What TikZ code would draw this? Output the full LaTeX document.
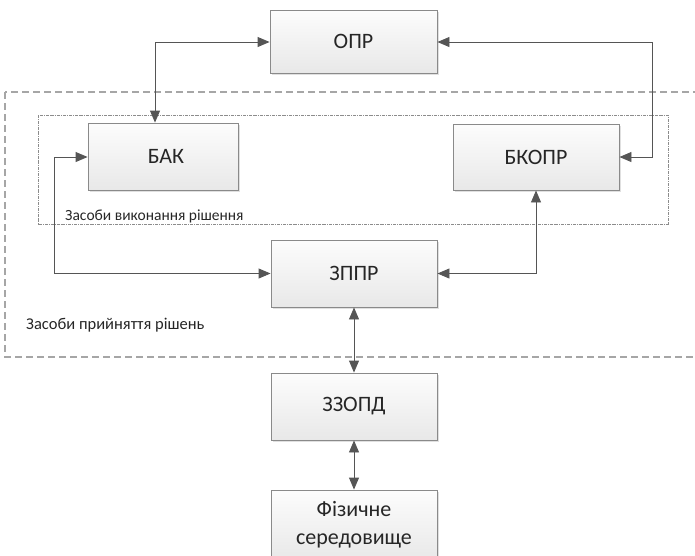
\documentclass[tikz,border=0pt]{standalone}
\usepackage{fontspec}
\setmainfont{Carlito}
\usetikzlibrary{arrows.meta,shadows}
\definecolor{linec}{HTML}{555555}
\definecolor{boxborder}{HTML}{8A8A8A}
\definecolor{outerc}{HTML}{A6A6A6}
\definecolor{innerc}{HTML}{8C8C8C}
\tikzset{
  blk/.style={draw=boxborder, line width=0.9pt, top color=black!1, bottom color=black!9,
    drop shadow={shadow xshift=2pt, shadow yshift=-2pt, fill=black!12, opacity=1},
    font=\fontsize{22}{26}\selectfont, text=black!85, inner sep=0pt, align=center},
  conn/.style={draw=linec, line width=0.9pt, {Triangle[length=12pt,width=10pt]}-{Triangle[length=12pt,width=10pt]}},
  lbl/.style={font=\fontsize{15.5}{18}\selectfont, text=black!85, inner sep=0pt, anchor=base west},
}
\begin{document}
\begin{tikzpicture}[x=1pt,y=-1pt]
\useasboundingbox (0,0) rectangle (695,555);
\begin{scope}
\clip (0,0) rectangle (695,555);
% outer dashed region
\draw[outerc, line width=1.2pt, dash pattern=on 7pt off 4pt] (5,92) rectangle (720,357);
% inner dash-dot region
\draw[innerc, line width=0.7pt, dash pattern=on 3pt off 1pt on 0.8pt off 1pt] (38,115) rectangle (668,224);
\node[lbl] (lexec) at (65,220) {Засоби виконання рішення};
\node[lbl, font=\fontsize{16.5}{20}\selectfont, anchor=west] (ldec) at (26,325) {Засоби прийняття рішень};
% boxes
\node[blk, minimum width=167pt, minimum height=63pt] (opr) at (353.5,41.5) {ОПР};
\node[blk, minimum width=150pt, minimum height=67pt] (bak) at (163,156.5) {\hspace{6pt}БАК};
\node[blk, minimum width=166pt, minimum height=66pt] (bkopr) at (536,157) {БКОПР};
\node[blk, minimum width=166pt, minimum height=67pt] (zppr) at (354,273.5) {ЗППР};
\node[blk, minimum width=166pt, minimum height=67pt] (zzopd) at (354,406.5) {ЗЗОПД};
\node[blk, minimum width=166pt, minimum height=70pt, font=\fontsize{22}{28}\selectfont] (phys) at (354,525) {Фізичне\\середовище};
% connectors
\draw[conn] (opr.west |- 0,42) -| (bak.north -| 155,0);
\draw[conn] (opr.east |- 0,42) -- (652,42) |- (bkopr.east);
\draw[conn] (zppr.west) -- (54,273.5) |- (bak.west |- 0,157);
\draw[conn] (zppr.east) -| (bkopr.south);
\draw[conn] (zppr.south) -- (zzopd.north);
\draw[conn] (zzopd.south) -- (phys.north);
\end{scope}
\end{tikzpicture}
\end{document}
